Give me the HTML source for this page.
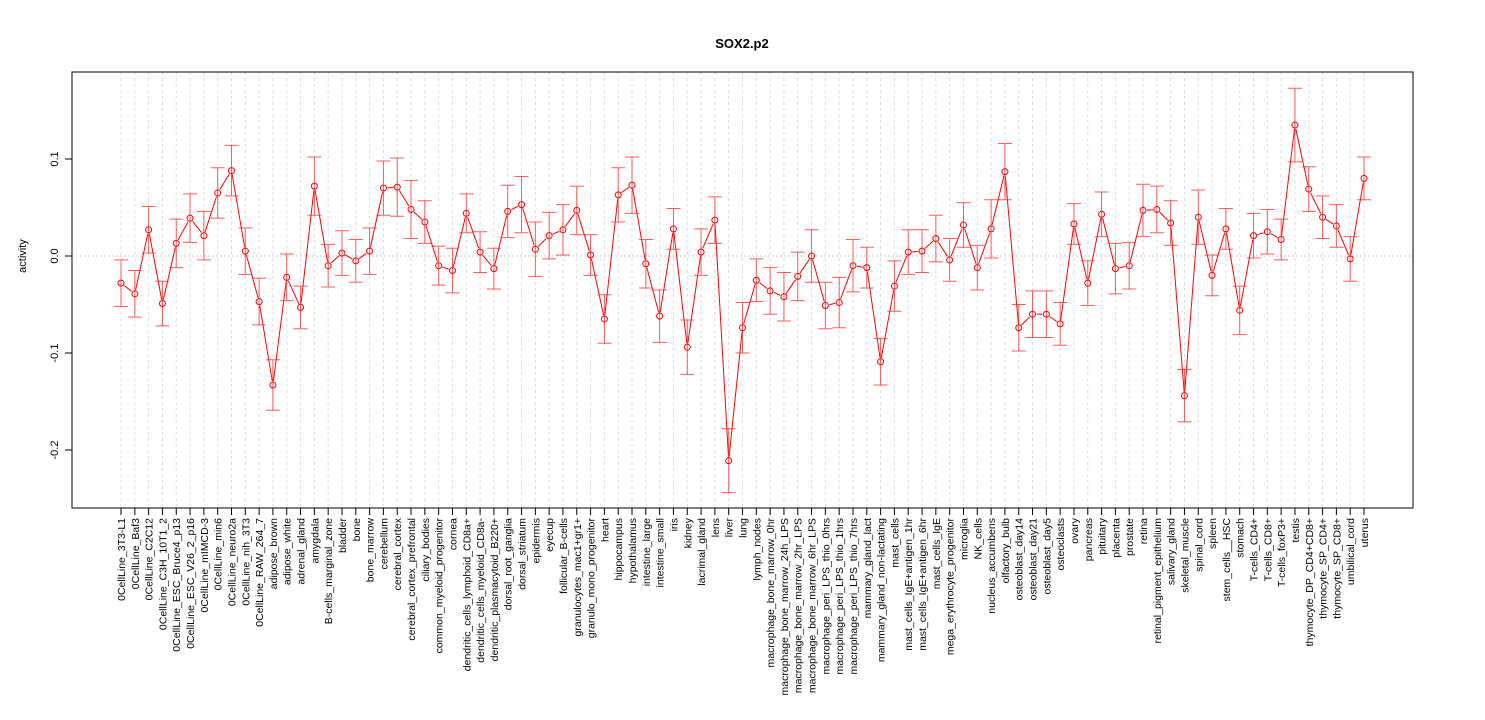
<!DOCTYPE html>
<html><head><meta charset="utf-8"><style>body{margin:0;background:#fff}svg{display:block;font-family:"Liberation Sans",sans-serif}</style></head>
<body>
<svg id="chart" width="1485" height="720" xmlns="http://www.w3.org/2000/svg">
<rect width="1485" height="720" fill="#fff"/>
<text x="742" y="48" text-anchor="middle" font-size="13" font-weight="bold">SOX2.p2</text>
<text transform="translate(26,256) rotate(-90)" text-anchor="middle" font-size="11">activity</text>
<g id="marks"></g>
<rect x="72" y="72" width="1341" height="436" fill="none" stroke="#000"/>
</svg>
<script>
const categories=["0CellLine_3T3-L1","0CellLine_Baf3","0CellLine_C2C12","0CellLine_C3H_10T1_2","0CellLine_ESC_Bruce4_p13","0CellLine_ESC_V26_2_p16","0CellLine_mIMCD-3","0CellLine_min6","0CellLine_neuro2a","0CellLine_nih_3T3","0CellLine_RAW_264_7","adipose_brown","adipose_white","adrenal_gland","amygdala","B-cells_marginal_zone","bladder","bone","bone_marrow","cerebellum","cerebral_cortex","cerebral_cortex_prefrontal","ciliary_bodies","common_myeloid_progenitor","cornea","dendritic_cells_lymphoid_CD8a+","dendritic_cells_myeloid_CD8a-","dendritic_plasmacytoid_B220+","dorsal_root_ganglia","dorsal_striatum","epidermis","eyecup","follicular_B-cells","granulocytes_mac1+gr1+","granulo_mono_progenitor","heart","hippocampus","hypothalamus","intestine_large","intestine_small","iris","kidney","lacrimal_gland","lens","liver","lung","lymph_nodes","macrophage_bone_marrow_0hr","macrophage_bone_marrow_24h_LPS","macrophage_bone_marrow_2hr_LPS","macrophage_bone_marrow_6hr_LPS","macrophage_peri_LPS_thio_0hrs","macrophage_peri_LPS_thio_1hrs","macrophage_peri_LPS_thio_7hrs","mammary_gland_lact","mammary_gland_non-lactating","mast_cells","mast_cells_IgE+antigen_1hr","mast_cells_IgE+antigen_6hr","mast_cells_IgE","mega_erythrocyte_progenitor","microglia","NK_cells","nucleus_accumbens","olfactory_bulb","osteoblast_day14","osteoblast_day21","osteoblast_day5","osteoclasts","ovary","pancreas","pituitary","placenta","prostate","retina","retinal_pigment_epithelium","salivary_gland","skeletal_muscle","spinal_cord","spleen","stem_cells__HSC","stomach","T-cells_CD4+","T-cells_CD8+","T-cells_foxP3+","testis","thymocyte_DP_CD4+CD8+","thymocyte_SP_CD4+","thymocyte_SP_CD8+","umbilical_cord","uterus"];
const values=[-0.028,-0.039,0.027,-0.049,0.013,0.039,0.021,0.065,0.088,0.005,-0.047,-0.133,-0.022,-0.053,0.072,-0.010,0.003,-0.005,0.005,0.070,0.071,0.048,0.035,-0.010,-0.015,0.044,0.004,-0.013,0.046,0.053,0.007,0.021,0.027,0.047,0.001,-0.065,0.063,0.073,-0.008,-0.062,0.028,-0.094,0.004,0.037,-0.211,-0.074,-0.025,-0.036,-0.042,-0.021,0.000,-0.051,-0.048,-0.010,-0.012,-0.109,-0.031,0.004,0.005,0.018,-0.004,0.032,-0.012,0.028,0.087,-0.074,-0.060,-0.060,-0.070,0.033,-0.028,0.043,-0.013,-0.010,0.047,0.048,0.034,-0.144,0.040,-0.020,0.028,-0.056,0.021,0.025,0.017,0.135,0.069,0.040,0.031,-0.003,0.080];
const errors=[0.024,0.024,0.024,0.023,0.025,0.025,0.025,0.026,0.026,0.024,0.024,0.026,0.024,0.022,0.030,0.022,0.023,0.022,0.024,0.028,0.030,0.030,0.022,0.020,0.023,0.020,0.021,0.021,0.027,0.029,0.028,0.024,0.026,0.025,0.021,0.025,0.028,0.029,0.025,0.027,0.021,0.028,0.024,0.024,0.033,0.026,0.022,0.024,0.025,0.025,0.027,0.024,0.026,0.027,0.021,0.024,0.026,0.023,0.022,0.024,0.022,0.023,0.023,0.030,0.029,0.024,0.024,0.024,0.022,0.021,0.023,0.023,0.026,0.024,0.027,0.024,0.023,0.027,0.028,0.021,0.021,0.025,0.023,0.023,0.021,0.038,0.023,0.022,0.022,0.023,0.022];
const yTicks=[0.1,0.0,-0.1,-0.2];
const yTickLabels=["0.1","0.0","-0.1","-0.2"];
const NS="http://www.w3.org/2000/svg";
const g=document.getElementById('marks');
const xPos=i=>121+i*(1364-121)/(categories.length-1);
const yPos=v=>256-v*970;
function mk(tag,attrs){const e=document.createElementNS(NS,tag);for(const k in attrs)e.setAttribute(k,attrs[k]);g.appendChild(e);return e;}
categories.forEach((c,i)=>{
 const gl=mk('line',{x1:xPos(i),x2:xPos(i),y1:72,y2:508,stroke:'#ddd','stroke-dasharray':'3,3'});
 
 
});
let z=mk('line',{x1:72,x2:1413,y1:yPos(0),y2:yPos(0),stroke:'#ccc','stroke-dasharray':'2,2'});


let ax=mk('line',{x1:72,x2:72,y1:yPos(-0.2),y2:yPos(0.1),stroke:'#000'});


yTicks.forEach((t,i)=>{
 const y=yPos(t);
 const tk=mk('line',{x1:65,x2:72,y1:y,y2:y,stroke:'#000'});
 
 
 const tl=mk('text',{transform:`translate(58,${y}) rotate(-90)`,'text-anchor':'middle','font-size':11});
 tl.textContent=yTickLabels[i];
 
 
});
for(let i=0;i<values.length-1;i++){
 const x1=xPos(i),y1=yPos(values[i]),x2=xPos(i+1),y2=yPos(values[i+1]);
 const dx=x2-x1,dy=y2-y1,L=Math.hypot(dx,dy);
 if(L<9)continue;
 const r=4/L;
 const ln=mk('line',{x1:x1+dx*r,y1:y1+dy*r,x2:x2-dx*r,y2:y2-dy*r,stroke:'#f00','stroke-width':1});
 
 
}
categories.forEach((c,i)=>{
 const x=xPos(i),v=values[i],e=errors[i];
 const yt=yPos(v+e),yb=yPos(v-e);
 const eb=mk('path',{d:`M${x},${yt}V${yb}M${x-7},${yt}H${x+7}M${x-7},${yb}H${x+7}`,stroke:'#f33',fill:'none','stroke-width':1,'stroke-opacity':0.8});
 
 
 const pt=mk('circle',{cx:x,cy:yPos(v),r:3,fill:'none',stroke:'#f00','stroke-width':1});
 
 
 const tk=mk('line',{x1:x,x2:x,y1:508,y2:515,stroke:'#000'});
 
 
 const lb=mk('text',{transform:`translate(${x+4},518) rotate(-90)`,'text-anchor':'end','font-size':10.5});
 lb.textContent=c;
 
 
});
</script>
</body></html>
